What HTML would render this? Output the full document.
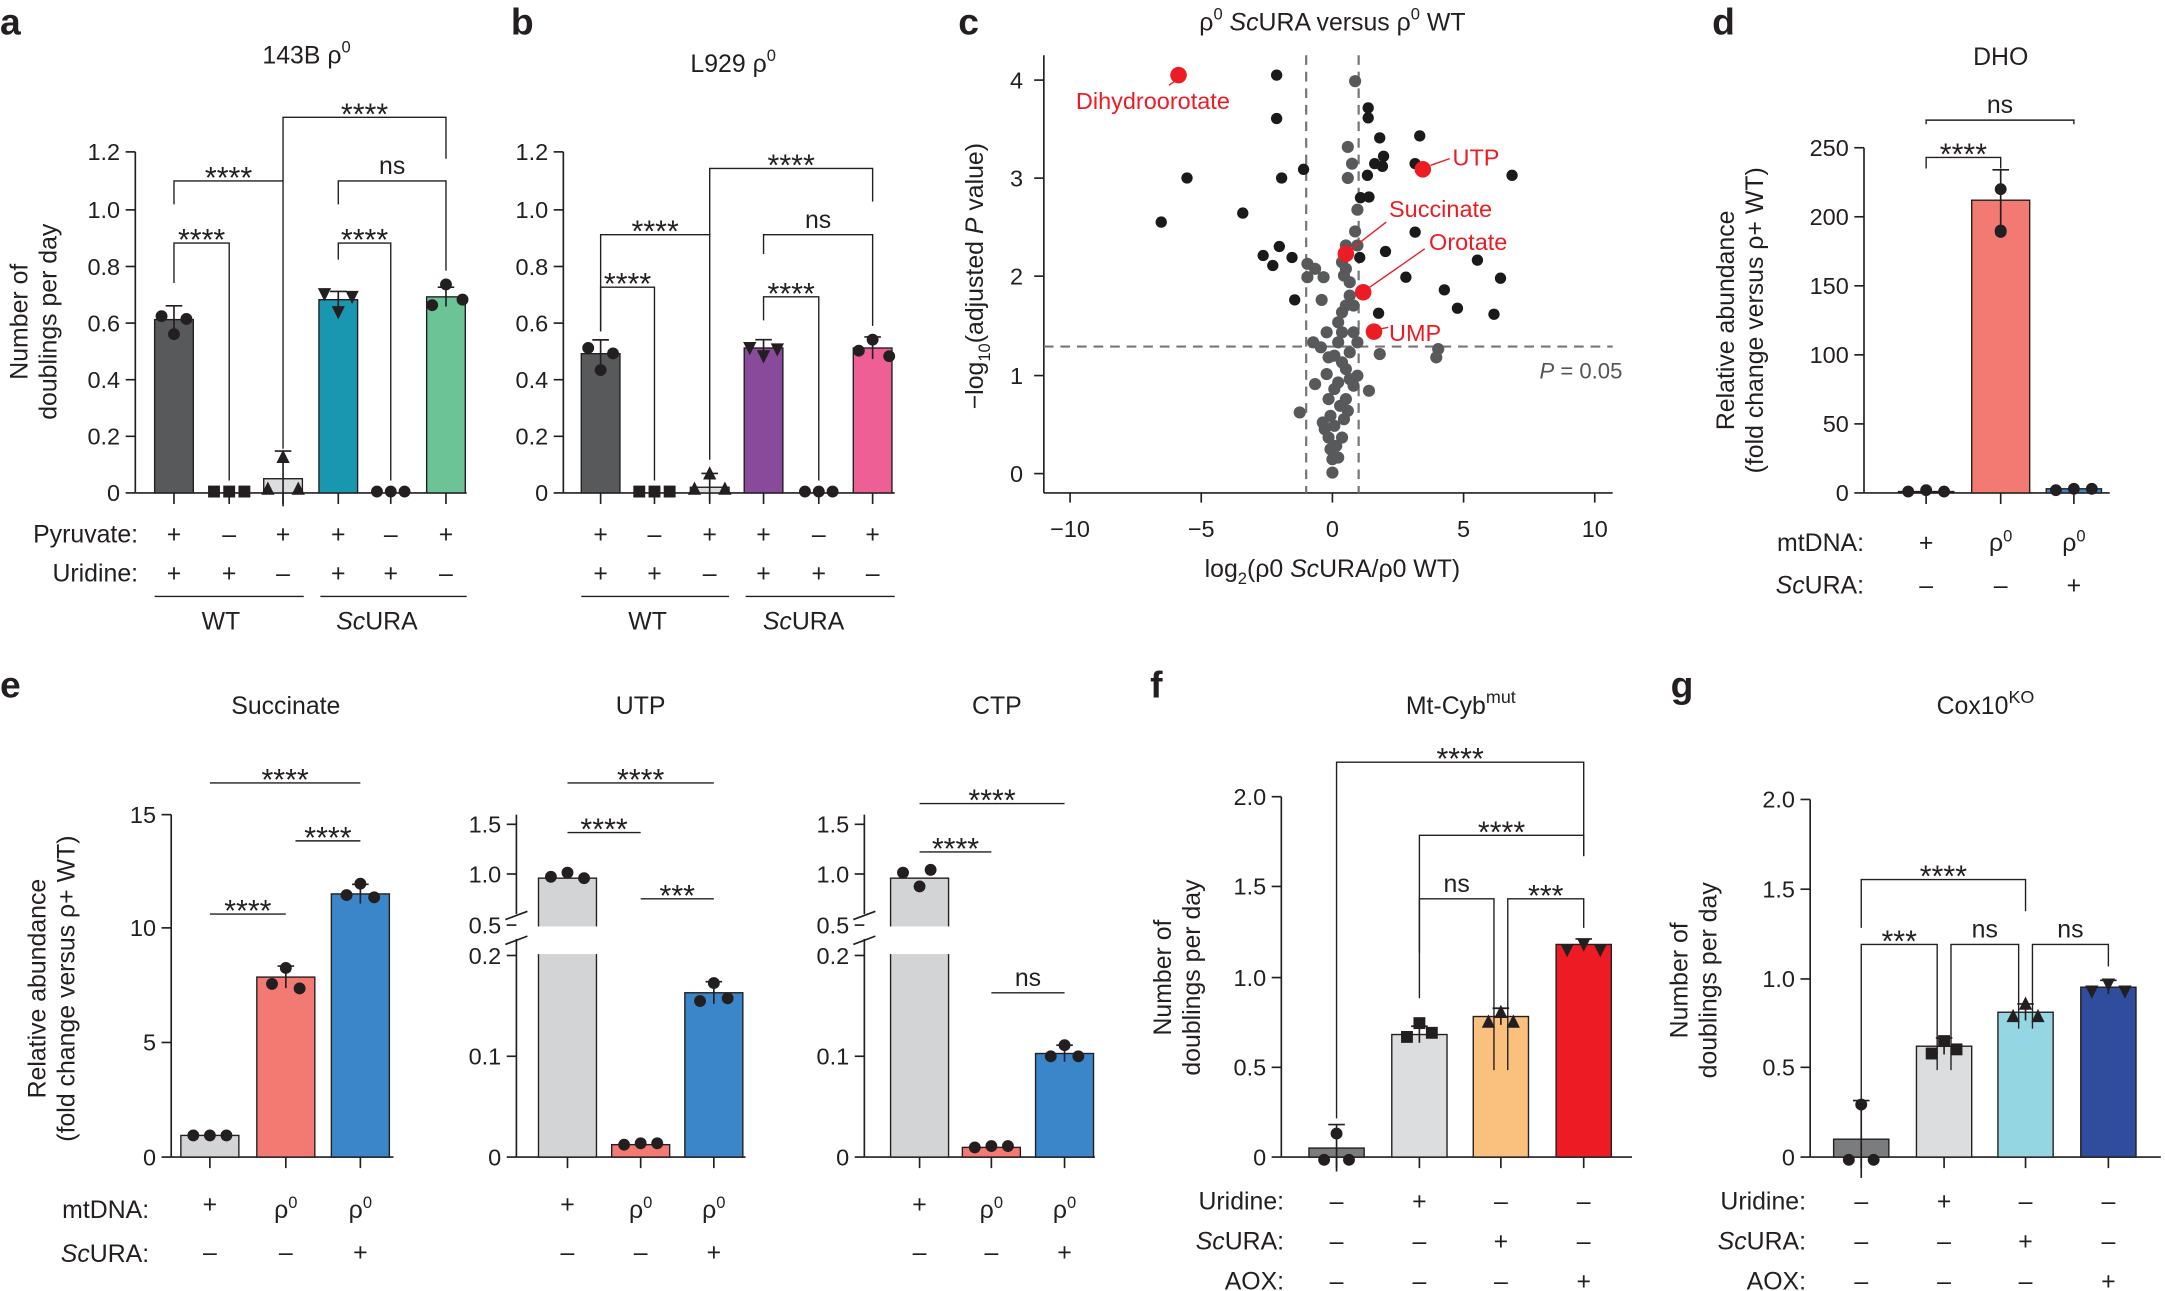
<!DOCTYPE html>
<html><head><meta charset="utf-8"><style>
html,body{margin:0;padding:0;background:#fff;}
svg{display:block;}
text{font-family:"Liberation Sans",sans-serif;fill:#231f20;}
</style></head><body>
<svg id="s" xmlns="http://www.w3.org/2000/svg" width="2165" height="1291" viewBox="0 0 1568 935" preserveAspectRatio="none"></svg>
<script>
let o='';
const F=17;
function T(x,y,s,a='middle',sz=F,extra=''){o+=`<text x="${x}" y="${y}" font-size="${sz}" text-anchor="${a}" ${extra}>${s}</text>`;}
function L(x1,y1,x2,y2,c='#231f20',w=1.2,d=''){o+=`<line x1="${x1}" y1="${y1}" x2="${x2}" y2="${y2}" stroke="${c}" stroke-width="${w}" ${d?`stroke-dasharray="${d}"`:''}/>`;}
function P(d,c='#231f20',w=1.2){o+=`<path d="${d}" fill="none" stroke="${c}" stroke-width="${w}"/>`;}
function C(x,y,r,c='#231f20'){o+=`<circle cx="${x}" cy="${y}" r="${r}" fill="${c}"/>`;}
function mark(t,x,y){const r=4.3;
 if(t=='c')C(x,y,r);
 else if(t=='s')o+=`<rect x="${x-r}" y="${y-r}" width="${2*r}" height="${2*r}" fill="#231f20"/>`;
 else if(t=='t')o+=`<path d="M${x-r-.5},${y+r} L${x+r+.5},${y+r} L${x},${y-r-1}Z" fill="#231f20"/>`;
 else o+=`<path d="M${x-r-.5},${y-r} L${x+r+.5},${y-r} L${x},${y+r+1}Z" fill="#231f20"/>`;}
function axis(x,y0,yt,ticks,xend,labs){L(x,y0,x,yt);L(x,y0,xend,y0);
 ticks.forEach((t,i)=>{L(x-7,t,x,t);T(x-11,t+6,labs[i],'end');});}
function bar(cx,w,y0,y,col,m,pts,err){o+=`<rect x="${cx-w/2}" y="${y}" width="${w}" height="${y0-y}" fill="${col}" stroke="#231f20" stroke-width="1"/>`;
 L(cx,y0,cx,y0+8);
 if(err){L(cx,y-err,cx,y+err);L(cx-6,y-err,cx+6,y-err);}
 pts.forEach(p=>mark(m,cx+p[0],p[1]));}
function sig(x,y,lab){if(lab.indexOf('*')>=0)T(x,y+5,lab,'middle',22);else T(x,y-5,lab,'middle',18);}
function br(x1,x2,y,yl,yr,lab){P(`M${x1},${yl} L${x1},${y} L${x2},${y} L${x2},${yr}`,'#231f20',1);sig((x1+x2)/2,y,lab);}
function hl(x1,x2,y,lab){L(x1,y,x2,y,'#231f20',1);sig((x1+x2)/2,y,lab);}
function lbl(x,y,s){o+=`<text x="${x}" y="${y}" font-size="27" font-weight="bold">${s}</text>`;}
function ytitle(x,y,lines){lines.forEach((l,i)=>o+=`<text transform="translate(${x+i*21},${y}) rotate(-90)" font-size="18" text-anchor="middle">${l}</text>`);}

// ===== a =====
lbl(0,25,'a');T(222,46,'143B ρ<tspan dy="-8" font-size="12">0</tspan>','middle',18);
const ya=v=>357-v*205.8;
axis(98,357,110,[357,316,275,234,193,152,110],338,['0','0.2','0.4','0.6','0.8','1.0','1.2']);
ytitle(20,233,['Number of','doublings per day']);
bar(126,28,357,ya(0.61),'#58595b','c',[[-9,229],[9,231],[0,242]],10);
bar(166,28,357,357,'#58595b','s',[[-11,356],[0,356],[11,356]]);
bar(205,28,357,ya(0.05),'#dcdddf','t',[[-11,354],[0,331],[11,354]],20);
bar(245,28,357,ya(0.68),'#1a97b0','v',[[-10,213],[10,215],[0,226]],6);
bar(283,28,357,357,'#58595b','c',[[-10,356],[0,356],[10,356]]);
bar(323,28,357,ya(0.69),'#6cc395','c',[[-10,221],[0,206],[12,217]],7);
br(126,166,176,205,348,'****');br(126,205,131,148,325,'****');br(245,283,176,188,348,'****');br(245,323,131,148,196,'ns');br(205,323,85,131,115,'****');
T(100,393,'Pyruvate:','end',18);T(100,421,'Uridine:','end',18);
['+','–','+','+','–','+'].forEach((s,i)=>T([126,166,205,245,283,323][i],393,s,'middle',18));
['+','+','–','+','+','–'].forEach((s,i)=>T([126,166,205,245,283,323][i],421,s,'middle',18));
L(112,432,220,432,'#231f20',1);L(232,432,338,432,'#231f20',1);T(160,456,'WT','middle',18);T(273,456,'<tspan font-style="italic">Sc</tspan>URA','middle',18);

// ===== b =====
lbl(370,25,'b');T(531,52,'L929 ρ<tspan dy="-8" font-size="12">0</tspan>','middle',18);
axis(408,357,110,[357,316,275,234,193,152,110],648,['0','0.2','0.4','0.6','0.8','1.0','1.2']);
bar(435,28,357,ya(0.49),'#58595b','c',[[-9,252],[9,256],[0,268]],10);
bar(474,28,357,357,'#58595b','s',[[-11,356],[0,356],[11,356]]);
bar(514,28,357,ya(0.02),'#dcdddf','t',[[-11,354],[0,343],[11,354]],10);
bar(553,28,357,ya(0.51),'#8a4a9b','v',[[-10,252],[10,253],[0,258]],6);
bar(593,28,357,357,'#58595b','c',[[-10,356],[0,356],[10,356]]);
bar(632,28,357,ya(0.51),'#ee5f95','c',[[-10,254],[0,246],[12,258]],8);
br(435,474,208,240,348,'****');br(435,514,170,240,333,'****');br(553,593,215,232,348,'****');br(553,632,170,184,236,'ns');br(514,632,122,170,146,'****');
['+','–','+','+','–','+'].forEach((s,i)=>T([435,474,514,553,593,632][i],393,s,'middle',18));
['+','+','–','+','+','–'].forEach((s,i)=>T([435,474,514,553,593,632][i],421,s,'middle',18));
L(421,432,528,432,'#231f20',1);L(540,432,648,432,'#231f20',1);T(469,456,'WT','middle',18);T(582,456,'<tspan font-style="italic">Sc</tspan>URA','middle',18);

// ===== c =====
lbl(694,25,'c');T(965,22,'ρ<tspan dy="-8" font-size="12">0</tspan><tspan dy="8" font-style="italic"> Sc</tspan>URA versus ρ<tspan dy="-8" font-size="12">0</tspan><tspan dy="8"> WT</tspan>','middle',18);
L(756,40,756,357);L(756,357,1168,357);
[[343,'0'],[272,'1'],[200,'2'],[129,'3'],[58,'4']].forEach(t=>{L(749,t[0],756,t[0]);T(741,t[0]+6,t[1],'end');});
[[775,'−10'],[870,'−5'],[965,'0'],[1060,'5'],[1155,'10']].forEach(t=>{L(t[0],357,t[0],364);T(t[0],389,t[1]);});
T(965,418,'log<tspan dy="5" font-size="12">2</tspan><tspan dy="-5">(ρ0 </tspan><tspan font-style="italic">Sc</tspan>URA/ρ0 WT)','middle',18);
o+=`<text transform="translate(712,200) rotate(-90)" font-size="18" text-anchor="middle">−log<tspan dy="5" font-size="12">10</tspan><tspan dy="-5">(adjusted </tspan><tspan font-style="italic">P</tspan> value)</text>`;
L(946,40,946,357,'#777',1.6,'7,5');L(984,40,984,357,'#777',1.6,'7,5');L(756,251,1168,251,'#777',1.6,'7,5');
T(1175,274,'<tspan font-style="italic">P</tspan> = 0.05','end',16,'style="fill:#555"');
const X=zx=>965+(zx-765)*0.2786, Y=zy=>343-(1333-zy)*0.2419;
const gray=[[824,158],[805,355],[816,405],[805,448],[830,543],[824,608],[800,650],[830,650],[700,705],[700,745],[742,745],[790,700],[795,740],[810,760],[737,813],[800,830],[820,830],[790,850],[750,910],[790,910],[820,910],[715,940],[735,955],[780,940],[830,940],[888,975],[1040,960],[1035,985],[755,985],[790,1000],[800,1020],[750,1035],[830,1040],[720,1065],[780,1060],[820,1070],[860,1085],[755,1110],[800,1110],[680,1150],[760,1160],[805,1145],[770,1190],[755,1225],[790,1225],[760,1260],[765,1290],[780,1285],[765,1330],[770,980],[810,970],[720,720],[800,720],[780,880],[810,800],[785,1130],[745,1200],[775,1250],[810,1050],[770,1080],[740,1180],[795,1170]];
gray.forEach(p=>C(X(p[0]),Y(p[1]),4.4,'#58595b'));
const blk=[[620,140],[620,270],[858,238],[858,268],[888,328],[992,322],[898,383],[875,405],[895,413],[980,405],[1232,440],[387,448],[633,448],[690,422],[856,440],[838,507],[860,505],[532,553],[320,580],[980,610],[627,653],[585,680],[660,686],[610,710],[836,686],[903,668],[1142,694],[956,745],[1202,748],[1056,783],[667,813],[1090,838],[885,853],[1185,856]];
blk.forEach(p=>C(X(p[0]),Y(p[1]),4.1,'#1a1a1a'));
const R='#ed1c24';
[[365,140],[1000,422],[800,675],[845,790],[873,908]].forEach(p=>C(X(p[0]),Y(p[1]),6,R));
L(X(365)-2,Y(140)+4,X(340),Y(170),R,1);L(X(1020),Y(410),X(1070),Y(390),R,1);L(X(815),Y(660),X(905),Y(580),R,1);L(X(862),Y(775),X(1005),Y(660),R,1);L(X(890),Y(900),X(910),Y(895),R,1);
T(835,79,'Dihydroorotate','middle',17,`style="fill:${R}"`);T(1052,120,'UTP','start',17,`style="fill:${R}"`);
T(1006,157,'Succinate','start',17,`style="fill:${R}"`);T(1035,181,'Orotate','start',17,`style="fill:${R}"`);T(1006,247,'UMP','start',17,`style="fill:${R}"`);

// ===== d =====
lbl(1240,25,'d');T(1449,47,'DHO','middle',18);
axis(1350,357,107,[357,307,257,207,157,107],1528,['0','50','100','150','200','250']);
ytitle(1256,232,['Relative abundance','(fold change versus ρ+ WT)']);
bar(1395,40,357,356,'#dcdddf','c',[[-13,356],[0,355],[13,356]]);
bar(1449,42,357,357-212,'#f27a73','c',[[0,137],[0,167],[0,168]],22);
bar(1502,40,357,354,'#3a86c8','c',[[-13,355],[0,354],[13,354]]);
br(1395,1449,114,122,122,'****');br(1395,1502,87,90,90,'ns');
T(1350,399,'mtDNA:','end',18);T(1350,430,'<tspan font-style="italic">Sc</tspan>URA:','end',18);
T(1395,399,'+','middle',18);T(1449,399,'ρ<tspan dy="-7" font-size="12">0</tspan>','middle',18);T(1502,399,'ρ<tspan dy="-7" font-size="12">0</tspan>','middle',18);
T(1395,430,'–','middle',18);T(1449,430,'–','middle',18);T(1502,430,'+','middle',18);

// ===== e =====
lbl(0,505,'e');T(207,517,'Succinate','middle',18);T(464,517,'UTP','middle',18);T(722,517,'CTP','middle',18);
ytitle(33,716,['Relative abundance','(fold change versus ρ+ WT)']);
axis(124,838,590,[838,755,672,590],285,['0','5','10','15']);
const ys=v=>838-v*16.5;
bar(152,42,838,ys(0.95),'#d3d4d6','c',[[-12,ys(.95)],[0,ys(.95)],[12,ys(.95)]]);
bar(207,42,838,ys(7.9),'#f27a73','c',[[-10,ys(7.6)],[0,ys(8.3)],[10,ys(7.4)]],8);
bar(261,42,838,ys(11.55),'#3a86c8','c',[[-10,ys(11.5)],[0,ys(12)],[10,ys(11.4)]],7);
hl(152,207,662,'****');hl(152,261,567,'****');hl(214,261,609,'****');
function broken(x,xend){L(x,838,x,680);L(x,662,x,590);L(x,838,xend,838);
 [[838,'0'],[765,'0.1'],[692,'0.2']].forEach(t=>{L(x-7,t[0],x,t[0]);T(x-11,t[0]+6,t[1],'end');});
 [[670,'0.5'],[633,'1.0'],[597,'1.5']].forEach(t=>{L(x-7,t[0],x,t[0]);T(x-11,t[0]+6,t[1],'end');});
 L(x-8,684,x+8,678);L(x-8,666,x+8,660);}
function bigbar(cx){o+=`<rect x="${cx-21}" y="636" width="42" height="202" fill="#d3d4d6" stroke="#231f20" stroke-width="1"/><rect x="${cx-23}" y="671" width="46" height="20" fill="#fff"/>`;L(cx,838,cx,846);}
broken(374,540);bigbar(411);[[-12,635],[0,632],[12,636]].forEach(p=>mark('c',411+p[0],p[1]));
bar(464,42,838,829,'#f27a73','c',[[-12,829],[0,828],[12,828]]);
bar(517,42,838,719,'#3a86c8','c',[[-10,725],[0,712],[10,723]],8);
hl(411,464,603,'****');hl(411,517,567,'****');hl(464,517,651,'***');
broken(626,793);bigbar(666);[[-12,632],[0,642],[8,630]].forEach(p=>mark('c',666+p[0],p[1]));
bar(718,42,838,831,'#f27a73','c',[[-12,831],[0,830],[12,830]]);
bar(771,42,838,763,'#3a86c8','c',[[-10,765],[0,757],[10,765]],6);
hl(666,718,617,'****');hl(666,771,582,'****');hl(718,771,719,'ns');
T(108,882,'mtDNA:','end',18);T(108,914,'<tspan font-style="italic">Sc</tspan>URA:','end',18);
[[152,207,261],[411,464,517],[666,718,771]].forEach(g=>{T(g[0],878,'+','middle',18);T(g[1],882,'ρ<tspan dy="-7" font-size="12">0</tspan>','middle',18);T(g[2],882,'ρ<tspan dy="-7" font-size="12">0</tspan>','middle',18);
 T(g[0],913,'–','middle',18);T(g[1],913,'–','middle',18);T(g[2],913,'+','middle',18);});

// ===== f =====
lbl(833,505,'f');T(1058,517,'Mt-Cyb<tspan dy="-8" font-size="13">mut</tspan>','middle',18);
const yf=v=>838-v*130.5;
axis(928,838,577,[838,773,708,642,577],1182,['0','0.5','1.0','1.5','2.0']);
ytitle(848,708,['Number of','doublings per day']);
bar(968,40,838,yf(0.05),'#7b7c7e','c',[[-9,840],[9,840],[0,821]],17);
bar(1028,40,838,yf(0.68),'#dcdddf','s',[[-9,751],[9,748],[0,741]],6);
bar(1087,40,838,yf(0.78),'#f9c07e','t',[[-9,740],[9,740],[0,733]],6);
bar(1147,40,838,yf(1.18),'#ed1c24','v',[[-12,688],[12,688],[0,684]],4);
br(968,1147,552,810,620,'****');br(1028,1147,605,690,620,'****');br(1028,1082,651,723,775,'ns');br(1092,1147,651,775,672,'***');
T(930,876,'Uridine:','end',18);T(930,905,'<tspan font-style="italic">Sc</tspan>URA:','end',18);T(930,934,'AOX:','end',18);
[['–','+','–','–'],['–','–','+','–'],['–','–','–','+']].forEach((r,j)=>r.forEach((s,i)=>T([968,1028,1087,1147][i],876+j*29,s,'middle',18)));

// ===== g =====
lbl(1210,505,'g');T(1438,517,'Cox10<tspan dy="-8" font-size="13">KO</tspan>','middle',18);
const yg=v=>838-v*129.5;
axis(1311,838,579,[838,773,709,644,579],1565,['0','0.5','1.0','1.5','2.0']);
ytitle(1222,710,['Number of','doublings per day']);
bar(1348,40,838,yg(0.1),'#7b7c7e','c',[[-9,840],[9,840],[0,800]],28);
bar(1408,40,838,yg(0.62),'#dcdddf','s',[[-9,763],[9,760],[0,754]],6);
bar(1467,40,838,yg(0.81),'#95d6e3','t',[[-9,736],[9,736],[0,727]],6);
bar(1527,40,838,yg(0.95),'#2f4c9d','v',[[-12,718],[12,718],[0,713]],5);
br(1348,1467,637,672,660,'****');br(1348,1403,684,818,775,'***');br(1413,1462,684,775,745,'ns');br(1472,1527,684,745,700,'ns');
T(1308,876,'Uridine:','end',18);T(1308,905,'<tspan font-style="italic">Sc</tspan>URA:','end',18);T(1308,934,'AOX:','end',18);
[['–','+','–','–'],['–','–','+','–'],['–','–','–','+']].forEach((r,j)=>r.forEach((s,i)=>T([1348,1408,1467,1527][i],876+j*29,s,'middle',18)));

document.getElementById('s').innerHTML=o;
</script>
</body></html>
